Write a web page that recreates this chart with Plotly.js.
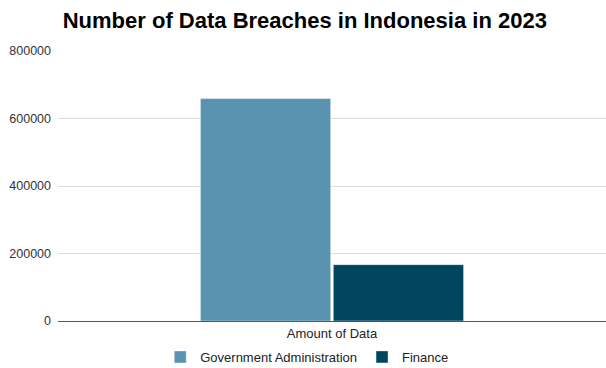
<!DOCTYPE html>
<html>
<head>
<meta charset="utf-8">
<script src="https://cdn.plot.ly/plotly-3.0.1.min.js"></script>
<style>html,body{margin:0;padding:0;background:#fff}#chart{width:606px;height:368px}</style>
</head>
<body>
<div id="chart"></div>
<script>
const categories = ["Amount of Data"];
const seriesNames = ["Government Administration", "Finance"];
const govValues = [659000];
const financeValues = [167000];
const yTicks = [0, 200000, 400000, 600000, 800000];
const colors = ["#5a93b0", "#02455f"];

const traces = [
  {type: "bar", name: seriesNames[0], x: categories, y: govValues, marker: {color: colors[0], line: {color: "rgba(255,255,255,0.4)", width: 1}}},
  {type: "bar", name: seriesNames[1], x: categories, y: financeValues, marker: {color: colors[1], line: {color: "rgba(255,255,255,0.4)", width: 1}}}
];

const layout = {
  width: 606, height: 368,
  margin: {l: 58, r: 0, t: 51, b: 47},
  paper_bgcolor: "#fff", plot_bgcolor: "#fff",
  font: {family: "Arial, Liberation Sans, sans-serif", size: 13, color: "#444"},
  title: {text: "<b>Number of Data Breaches in Indonesia in 2023</b>", font: {size: 22, color: "#000", family: "Arial, Liberation Sans, sans-serif"}, x: 0.503, xanchor: "center", y: 0.945, yanchor: "middle", yref: "container"},
  barmode: "group",
  bargap: 0.515,
  bargroupgap: 0.02,
  xaxis: {showgrid: false, showline: true, linecolor: "#555", linewidth: 1, ticks: "", tickfont: {color: "#222", size: 13}, fixedrange: true},
  yaxis: {range: [0, 800000], tickvals: yTicks, ticktext: yTicks.map(String), showgrid: true, gridcolor: "#dcdcdc", zeroline: false, ticks: "", tickfont: {color: "#333", size: 12.5}, ticklabelstandoff: 6},
  showlegend: true,
  legend: {orientation: "h", x: 0.507, xanchor: "center", xref: "container", y: 0.03, yanchor: "middle", yref: "container", font: {size: 13, color: "#222"}, itemwidth: 30, tracegroupgap: 0}
};

Plotly.newPlot("chart", traces, layout, {displayModeBar: false, staticPlot: true});
</script>
</body>
</html>
